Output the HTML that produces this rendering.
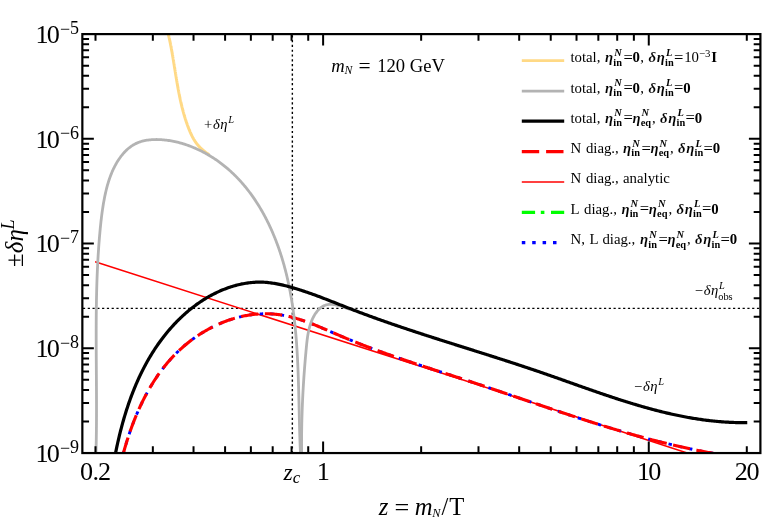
<!DOCTYPE html>
<html><head><meta charset="utf-8"><title>plot</title>
<style>html,body{margin:0;padding:0;background:#fff;}svg{display:block;will-change:transform;}text{font-family:"Liberation Serif",serif;}</style></head>
<body>
<svg width="763" height="522" viewBox="0 0 763 522">
<defs><clipPath id="cp"><rect x="82.35" y="34.10" width="678.05" height="418.95"/></clipPath></defs>
<defs><clipPath id="co"><rect x="82.35" y="34.10" width="127.65" height="418.95"/></clipPath></defs>
<rect width="763" height="522" fill="#fff"/>
<g stroke="#000" stroke-width="1.4" stroke-dasharray="2.2 2.58" fill="none">
<path d="M292.35 34.60 V453.05" stroke-dashoffset="-0.7"/>
<path d="M82.95 308.40 H760.40"/>
</g>
<g clip-path="url(#cp)" fill="none" stroke-linejoin="round">
<path d="M167.33 30.09 L167.43 30.47 L167.52 30.85 L167.62 31.22 L167.71 31.60 L167.81 31.98 L167.90 32.35 L167.99 32.73 L168.08 33.11 L168.17 33.49 L168.26 33.87 L168.35 34.25 L168.44 34.63 L168.53 35.01 L168.62 35.39 L168.71 35.77 L168.80 36.15 L168.88 36.53 L168.97 36.91 L169.05 37.29 L169.14 37.67 L169.22 38.06 L169.31 38.44 L169.39 38.82 L169.47 39.20 L169.56 39.59 L169.64 39.97 L169.72 40.35 L169.80 40.74 L169.88 41.12 L169.96 41.51 L170.04 41.89 L170.12 42.27 L170.20 42.66 L170.27 43.04 L170.35 43.43 L170.43 43.82 L170.51 44.20 L170.58 44.59 L170.66 44.97 L170.73 45.36 L170.81 45.75 L170.88 46.13 L170.96 46.52 L171.03 46.91 L171.11 47.30 L171.18 47.68 L171.25 48.07 L171.32 48.46 L171.40 48.85 L171.47 49.24 L171.54 49.62 L171.61 50.01 L171.68 50.40 L171.75 50.79 L171.82 51.18 L171.89 51.57 L171.96 51.96 L172.03 52.35 L172.10 52.74 L172.17 53.13 L172.24 53.52 L172.31 53.91 L172.37 54.30 L172.44 54.69 L172.51 55.08 L172.58 55.47 L172.64 55.86 L172.71 56.25 L172.78 56.65 L172.84 57.04 L172.91 57.43 L172.98 57.82 L173.04 58.21 L173.11 58.60 L173.17 59.00 L173.24 59.39 L173.30 59.78 L173.37 60.17 L173.43 60.56 L173.50 60.96 L173.56 61.35 L173.63 61.74 L173.69 62.14 L173.76 62.53 L173.82 62.92 L173.88 63.31 L173.95 63.71 L174.01 64.10 L174.08 64.49 L174.14 64.89 L174.20 65.28 L174.27 65.67 L174.33 66.07 L174.39 66.46 L174.46 66.85 L174.52 67.25 L174.58 67.64 L174.65 68.04 L174.71 68.43 L174.77 68.82 L174.84 69.22 L174.90 69.61 L174.96 70.01 L175.03 70.40 L175.09 70.79 L175.15 71.19 L175.22 71.58 L175.28 71.98 L175.35 72.37 L175.41 72.76 L175.47 73.16 L175.54 73.55 L175.60 73.95 L175.66 74.34 L175.73 74.73 L175.79 75.13 L175.86 75.52 L175.92 75.92 L175.99 76.31 L176.05 76.71 L176.12 77.10 L176.18 77.49 L176.25 77.89 L176.31 78.28 L176.38 78.68 L176.44 79.07 L176.51 79.46 L176.57 79.86 L176.64 80.25 L176.71 80.65 L176.77 81.04 L176.84 81.43 L176.91 81.83 L176.97 82.22 L177.04 82.61 L177.11 83.01 L177.18 83.40 L177.24 83.79 L177.31 84.19 L177.38 84.58 L177.45 84.97 L177.52 85.37 L177.59 85.76 L177.66 86.15 L177.73 86.55 L177.80 86.94 L177.87 87.33 L177.94 87.72 L178.01 88.12 L178.08 88.51 L178.16 88.90 L178.23 89.29 L178.30 89.68 L178.37 90.08 L178.45 90.47 L178.52 90.86 L178.59 91.25 L178.67 91.64 L178.74 92.03 L178.82 92.43 L178.89 92.82 L178.97 93.21 L179.05 93.60 L179.12 93.99 L179.20 94.38 L179.28 94.77 L179.36 95.16 L179.44 95.55 L179.52 95.94 L179.60 96.33 L179.68 96.72 L179.76 97.11 L179.84 97.50 L179.92 97.89 L180.00 98.28 L180.08 98.67 L180.17 99.06 L180.25 99.44 L180.33 99.83 L180.42 100.22 L180.50 100.61 L180.59 101.00 L180.68 101.38 L180.76 101.77 L180.85 102.16 L180.94 102.54 L181.03 102.93 L181.12 103.32 L181.21 103.70 L181.30 104.09 L181.39 104.48 L181.48 104.86 L181.57 105.25 L181.66 105.63 L181.76 106.02 L181.85 106.40 L181.94 106.79 L182.04 107.17 L182.14 107.56 L182.23 107.94 L182.33 108.32 L182.43 108.71 L182.53 109.09 L182.63 109.47 L182.73 109.86 L182.83 110.24 L182.93 110.62 L183.03 111.00 L183.13 111.38 L183.24 111.76 L183.34 112.15 L183.45 112.53 L183.55 112.91 L183.66 113.29 L183.77 113.67 L183.87 114.05 L183.98 114.43 L184.09 114.81 L184.20 115.18 L184.31 115.56 L184.43 115.94 L184.54 116.32 L184.65 116.70 L184.77 117.07 L184.88 117.45 L185.00 117.83 L185.12 118.20 L185.23 118.58 L185.35 118.96 L185.47 119.33 L185.59 119.71 L185.72 120.08 L185.84 120.45 L185.96 120.83 L186.08 121.20 L186.21 121.58 L186.34 121.95 L186.46 122.32 L186.59 122.69 L186.72 123.07 L186.85 123.44 L186.98 123.81 L187.11 124.18 L187.24 124.55 L187.38 124.92 L187.51 125.29 L187.65 125.66 L187.78 126.03 L187.92 126.40 L188.06 126.77 L188.20 127.13 L188.34 127.50 L188.48 127.87 L188.62 128.24 L188.77 128.60 L188.91 128.97 L189.06 129.33 L189.20 129.70 L189.35 130.06 L189.50 130.43 L189.65 130.79 L189.80 131.16 L189.95 131.52 L190.11 131.88 L190.26 132.24 L190.42 132.60 L190.58 132.96 L190.74 133.32 L190.90 133.68 L191.06 134.03 L191.23 134.39 L191.40 134.74 L191.57 135.09 L191.74 135.45 L191.91 135.80 L192.08 136.15 L192.26 136.49 L192.44 136.84 L192.62 137.19 L192.80 137.53 L192.99 137.87 L193.18 138.21 L193.37 138.55 L193.56 138.89 L193.76 139.23 L193.95 139.56 L194.15 139.89 L194.36 140.22 L194.56 140.55 L194.77 140.88 L194.98 141.20 L195.19 141.52 L195.41 141.84 L195.63 142.16 L195.85 142.48 L196.08 142.79 L196.31 143.10 L196.54 143.41 L196.77 143.72 L197.01 144.02 L197.25 144.32 L197.50 144.62 L197.75 144.92 L198.00 145.22 L198.25 145.51 L198.51 145.80 L198.76 146.09 L199.03 146.37 L199.29 146.66 L199.56 146.94 L199.83 147.22 L200.10 147.49 L200.38 147.77 L200.66 148.04 L200.94 148.31 L201.22 148.58 L201.51 148.85 L201.80 149.11 L202.09 149.38 L202.38 149.64 L202.68 149.90 L202.98 150.15 L203.28 150.41 L203.58 150.66 L203.89 150.91 L204.20 151.16 L204.51 151.41 L204.82 151.66 L205.13 151.90 L205.45 152.14 L205.77 152.38 L206.09 152.62 L206.41 152.86 L206.73 153.10 L207.05 153.33 L207.38 153.57 L207.71 153.80 L208.04 154.03 L208.37 154.26 L208.70 154.49 L209.03 154.72 L209.36 154.95 L209.70 155.17 L210.03 155.40 L210.37 155.62 L210.71 155.85 L211.04 156.07 L211.38 156.29 L211.72 156.52 L212.06 156.74 L212.40 156.96 L212.74 157.18 L213.08 157.40 L213.42 157.63 L213.76 157.85 L214.10 158.07 L214.44 158.29 L214.78 158.51 L215.12 158.73 L215.46 158.95 L215.80 159.17 L216.13 159.39 L216.47 159.62 L216.81 159.84 L217.14 160.06 L217.48 160.28 L217.82 160.51 L218.15 160.73 L218.48 160.96 L218.81 161.18 L219.14 161.41 L219.47 161.64 L219.80 161.87 L220.13 162.10 L220.45 162.33 L220.78 162.56 L221.10 162.79 L221.42 163.03 L221.74 163.26 L222.06 163.50 L222.37 163.74 L222.68 163.98 L222.99 164.22 L223.30 164.46 L223.61 164.71 L223.91 164.96 L224.22 165.20 L224.51 165.45 L224.81 165.71 L225.11 165.96 L225.40 166.22 L225.69 166.47 L225.97 166.73 L226.26 167.00 L226.54 167.26 L226.81 167.53 L227.09 167.80 L227.36 168.07 L227.62 168.34" stroke="#ffd985" stroke-width="3" clip-path="url(#co)"/>
<path d="M95.10 261.80 L464.00 380.30 L687.20 453.00 L700.00 457.20" stroke="#ff0000" stroke-width="1.5"/>
<path d="M122.17 457.78 L122.45 456.69 L122.74 455.60 L123.03 454.51 L123.33 453.42 L123.63 452.32 L123.93 451.23 L124.24 450.13 L124.55 449.04 L124.87 447.94 L125.19 446.84 L125.51 445.74 L125.84 444.64 L126.17 443.54 L126.51 442.44 L126.85 441.34 L127.19 440.24 L127.54 439.14 L127.90 438.04 L128.25 436.94 L128.62 435.85 L128.98 434.75 L129.35 433.65 L129.73 432.55 L130.11 431.45 L130.49 430.35 L130.88 429.25 L131.28 428.16 L131.67 427.06 L132.08 425.97 L132.48 424.87 L132.90 423.78 L133.31 422.69 L133.73 421.60 L134.16 420.51 L134.59 419.42 L135.03 418.33 L135.47 417.25 L135.91 416.16 L136.37 415.08 L136.82 414.00 L137.28 412.92 L137.75 411.85 L138.22 410.77 L138.69 409.70 L139.18 408.63 L139.66 407.56 L140.15 406.49 L140.65 405.43 L141.15 404.36 L141.66 403.30 L142.17 402.25 L142.69 401.19 L143.21 400.14 L143.74 399.09 L144.28 398.04 L144.81 397.00 L145.36 395.96 L145.91 394.92 L146.47 393.89 L147.03 392.86 L147.60 391.83 L148.17 390.80 L148.75 389.78 L149.33 388.76 L149.92 387.75 L150.52 386.74 L151.12 385.73 L151.73 384.73 L152.34 383.73 L152.96 382.73 L153.59 381.74 L154.22 380.75 L154.86 379.77 L155.50 378.79 L156.15 377.82 L156.80 376.85 L157.47 375.88 L158.13 374.92 L158.81 373.96 L159.49 373.01 L160.18 372.06 L160.87 371.12 L161.57 370.18 L162.27 369.25 L162.99 368.32 L163.70 367.40 L164.43 366.48 L165.16 365.57 L165.90 364.66 L166.64 363.76 L167.39 362.87 L168.15 361.98 L168.92 361.09 L169.69 360.22 L170.46 359.34 L171.25 358.48 L172.04 357.61 L172.84 356.76 L173.64 355.91 L174.45 355.07 L175.27 354.23 L176.10 353.40 L176.93 352.58 L177.77 351.76 L178.62 350.95 L179.47 350.15 L180.33 349.35 L181.20 348.56 L182.07 347.78 L182.95 347.00 L183.84 346.23 L184.73 345.47 L185.63 344.71 L186.53 343.96 L187.45 343.22 L188.36 342.49 L189.29 341.76 L190.22 341.04 L191.15 340.33 L192.09 339.63 L193.04 338.93 L193.99 338.25 L194.95 337.57 L195.91 336.90 L196.88 336.23 L197.86 335.58 L198.83 334.93 L199.82 334.29 L200.81 333.66 L201.80 333.03 L202.80 332.42 L203.81 331.81 L204.81 331.22 L205.83 330.63 L206.85 330.05 L207.87 329.48 L208.89 328.92 L209.93 328.36 L210.96 327.82 L212.00 327.29 L213.04 326.76 L214.09 326.24 L215.14 325.74 L216.20 325.24 L217.26 324.75 L218.32 324.27 L219.38 323.80 L220.45 323.34 L221.53 322.90 L222.60 322.46 L223.68 322.03 L224.76 321.61 L225.85 321.20 L226.94 320.80 L228.03 320.41 L229.12 320.03 L230.22 319.66 L231.32 319.30 L232.42 318.96 L233.53 318.62 L234.64 318.29 L235.75 317.98 L236.86 317.67 L237.97 317.38 L239.09 317.09 L240.21 316.82 L241.33 316.56 L242.45 316.31 L243.57 316.07 L244.70 315.85 L245.83 315.63 L246.96 315.43 L248.09 315.23 L249.22 315.05 L250.35 314.88 L251.49 314.73 L252.62 314.58 L253.76 314.45 L254.89 314.32 L256.03 314.21 L257.17 314.12 L258.31 314.03 L259.45 313.96 L260.59 313.90 L261.74 313.85 L262.88 313.81 L264.02 313.79 L265.16 313.78 L266.30 313.78 L267.45 313.79 L268.59 313.82 L269.73 313.86 L270.88 313.91 L272.02 313.98 L273.16 314.06 L274.30 314.15 L275.44 314.26 L276.58 314.38 L277.72 314.51 L278.86 314.66 L280.00 314.81 L281.14 314.99 L282.28 315.17 L283.41 315.37 L284.55 315.58 L285.68 315.80 L286.81 316.04 L287.94 316.29 L289.08 316.54 L290.20 316.81 L291.33 317.09 L292.46 317.38 L293.58 317.68 L294.71 317.99 L295.83 318.31 L296.95 318.63 L298.07 318.97 L299.19 319.32 L300.30 319.67 L301.42 320.03 L302.53 320.40 L303.64 320.78 L304.75 321.16 L305.86 321.56 L306.97 321.96 L308.07 322.36 L309.17 322.77 L310.28 323.19 L311.38 323.61 L312.48 324.04 L313.58 324.47 L314.68 324.91 L315.77 325.35 L316.87 325.80 L317.96 326.25 L319.06 326.70 L320.15 327.16 L321.25 327.62 L322.34 328.08 L323.43 328.55 L324.52 329.01 L325.61 329.48 L326.70 329.95 L327.79 330.43 L328.88 330.90 L329.97 331.37 L331.06 331.85 L332.14 332.32 L333.23 332.80 L334.32 333.27 L335.41 333.74 L336.50 334.21 L337.58 334.68 L338.67 335.15 L339.76 335.62 L340.85 336.09 L341.94 336.55 L343.03 337.01 L344.11 337.47 L345.20 337.92 L346.29 338.38 L347.38 338.83 L348.47 339.28 L349.56 339.72 L350.65 340.17 L351.74 340.61 L352.83 341.05 L353.92 341.49 L355.01 341.93 L356.11 342.37 L357.20 342.80 L358.29 343.23 L359.38 343.66 L360.47 344.09 L361.56 344.51 L362.66 344.94 L363.75 345.36 L364.84 345.78 L365.93 346.20 L367.03 346.61 L368.12 347.03 L369.21 347.44 L370.31 347.85 L371.40 348.26 L372.49 348.67 L373.59 349.08 L374.68 349.49 L375.78 349.89 L376.87 350.29 L377.97 350.69 L379.06 351.09 L380.15 351.49 L381.25 351.89 L382.35 352.28 L383.44 352.68 L384.54 353.07 L385.63 353.46 L386.73 353.85 L387.82 354.24 L388.92 354.63 L390.02 355.01 L391.11 355.40 L392.21 355.78 L393.31 356.16 L394.40 356.54 L395.50 356.92 L396.60 357.30 L397.69 357.68 L398.79 358.06 L399.89 358.44 L400.99 358.81 L402.08 359.19 L403.18 359.56 L404.28 359.93 L405.38 360.30 L406.47 360.67 L407.57 361.04 L408.67 361.41 L409.77 361.78 L410.87 362.15 L411.97 362.52 L413.07 362.88 L414.16 363.25 L415.26 363.61 L416.36 363.98 L417.46 364.34 L418.56 364.70 L419.66 365.07 L420.76 365.43 L421.86 365.79 L422.96 366.15 L424.06 366.51 L425.16 366.87 L426.26 367.23 L427.36 367.59 L428.46 367.95 L429.56 368.31 L430.66 368.67 L431.76 369.03 L432.86 369.38 L433.96 369.74 L435.06 370.10 L436.16 370.46 L437.26 370.81 L438.36 371.17 L439.47 371.53 L440.57 371.88 L441.67 372.24 L442.77 372.60 L443.87 372.95 L444.97 373.31 L446.07 373.66 L447.17 374.02 L448.27 374.38 L449.38 374.73 L450.48 375.09 L451.58 375.45 L452.68 375.80 L453.78 376.16 L454.88 376.52 L455.99 376.88 L457.09 377.24 L458.19 377.59 L459.29 377.95 L460.39 378.31 L461.50 378.67 L462.60 379.03 L463.70 379.39 L464.80 379.75 L465.90 380.11 L467.01 380.47 L468.11 380.84 L469.21 381.20 L470.31 381.56 L471.42 381.93 L472.52 382.29 L473.62 382.65 L474.72 383.02 L475.82 383.39 L476.93 383.75 L478.03 384.12 L479.13 384.49 L480.23 384.85 L481.34 385.22 L482.44 385.59 L483.54 385.96 L484.65 386.33 L485.75 386.70 L486.85 387.07 L487.95 387.44 L489.06 387.81 L490.16 388.19 L491.26 388.56 L492.37 388.93 L493.47 389.30 L494.57 389.68 L495.68 390.05 L496.78 390.42 L497.88 390.80 L498.99 391.17 L500.09 391.54 L501.19 391.92 L502.30 392.29 L503.40 392.67 L504.50 393.04 L505.61 393.42 L506.71 393.80 L507.81 394.17 L508.92 394.55 L510.02 394.92 L511.13 395.30 L512.23 395.68 L513.34 396.05 L514.44 396.43 L515.55 396.81 L516.65 397.18 L517.75 397.56 L518.86 397.94 L519.96 398.31 L521.07 398.69 L522.17 399.07 L523.28 399.45 L524.38 399.82 L525.49 400.20 L526.60 400.58 L527.70 400.95 L528.81 401.33 L529.91 401.71 L531.02 402.08 L532.12 402.46 L533.23 402.84 L534.34 403.21 L535.44 403.59 L536.55 403.97 L537.66 404.34 L538.76 404.72 L539.87 405.09 L540.98 405.47 L542.08 405.84 L543.19 406.22 L544.30 406.59 L545.41 406.97 L546.51 407.34 L547.62 407.72 L548.73 408.09 L549.84 408.46 L550.95 408.84 L552.05 409.21 L553.16 409.58 L554.27 409.95 L555.38 410.33 L556.49 410.70 L557.60 411.07 L558.71 411.44 L559.82 411.81 L560.93 412.18 L562.04 412.55 L563.15 412.92 L564.26 413.29 L565.37 413.65 L566.48 414.02 L567.59 414.39 L568.70 414.76 L569.81 415.12 L570.92 415.49 L572.03 415.85 L573.14 416.22 L574.25 416.58 L575.36 416.94 L576.47 417.31 L577.59 417.67 L578.70 418.03 L579.81 418.39 L580.92 418.75 L582.04 419.11 L583.15 419.47 L584.26 419.83 L585.38 420.19 L586.49 420.54 L587.60 420.90 L588.72 421.26 L589.83 421.61 L590.94 421.97 L592.06 422.32 L593.17 422.67 L594.29 423.02 L595.40 423.37 L596.52 423.72 L597.63 424.07 L598.75 424.42 L599.86 424.77 L600.98 425.12 L602.10 425.46 L603.21 425.81 L604.33 426.15 L605.44 426.50 L606.56 426.84 L607.68 427.18 L608.80 427.52 L609.91 427.86 L611.03 428.20 L612.15 428.54 L613.27 428.87 L614.39 429.21 L615.51 429.54 L616.62 429.88 L617.74 430.21 L618.86 430.54 L619.98 430.87 L621.10 431.20 L622.22 431.53 L623.34 431.86 L624.46 432.19 L625.58 432.51 L626.70 432.83 L627.83 433.16 L628.95 433.48 L630.07 433.80 L631.19 434.12 L632.31 434.44 L633.44 434.75 L634.56 435.07 L635.68 435.38 L636.81 435.70 L637.93 436.01 L639.05 436.32 L640.18 436.63 L641.30 436.94 L642.43 437.24 L643.55 437.55 L644.68 437.85 L645.80 438.16 L646.93 438.46 L648.05 438.76 L649.18 439.06 L650.30 439.36 L651.43 439.65 L652.56 439.95 L653.69 440.24 L654.81 440.53 L655.94 440.82 L657.07 441.11 L658.20 441.40 L659.33 441.68 L660.46 441.97 L661.58 442.25 L662.71 442.53 L663.84 442.81 L664.97 443.09 L666.10 443.37 L667.24 443.64 L668.37 443.92 L669.50 444.19 L670.63 444.46 L671.76 444.73 L672.89 444.99 L674.03 445.26 L675.16 445.52 L676.29 445.79 L677.43 446.05 L678.56 446.30 L679.69 446.56 L680.83 446.82 L681.96 447.07 L683.10 447.32 L684.23 447.57 L685.37 447.82 L686.50 448.07 L687.64 448.31 L688.78 448.56 L689.91 448.80 L691.05 449.04 L692.19 449.27 L693.33 449.51 L694.47 449.74 L695.60 449.98 L696.74 450.21 L697.88 450.43 L699.02 450.66 L700.16 450.88 L701.30 451.11 L702.44 451.33 L703.58 451.55 L704.73 451.76 L705.87 451.98 L707.01 452.19 L708.15 452.40 L709.29 452.61 L710.44 452.81 L711.58 453.02 L712.72 453.22 L713.87 453.42 L715.01 453.62 L716.16 453.82 L717.30 454.01 L718.45 454.20 L719.60 454.39 L720.74 454.58 L721.89 454.77" stroke="#0000ff" stroke-width="2.9" stroke-dasharray="3.4 7.09" stroke-dashoffset="6.89"/>
<path d="M122.17 457.78 L122.45 456.69 L122.74 455.60 L123.03 454.51 L123.33 453.42 L123.63 452.32 L123.93 451.23 L124.24 450.13 L124.55 449.04 L124.87 447.94 L125.19 446.84 L125.51 445.74 L125.84 444.64 L126.17 443.54 L126.51 442.44 L126.85 441.34 L127.19 440.24 L127.54 439.14 L127.90 438.04 L128.25 436.94 L128.62 435.85 L128.98 434.75 L129.35 433.65 L129.73 432.55 L130.11 431.45 L130.49 430.35 L130.88 429.25 L131.28 428.16 L131.67 427.06 L132.08 425.97 L132.48 424.87 L132.90 423.78 L133.31 422.69 L133.73 421.60 L134.16 420.51 L134.59 419.42 L135.03 418.33 L135.47 417.25 L135.91 416.16 L136.37 415.08 L136.82 414.00 L137.28 412.92 L137.75 411.85 L138.22 410.77 L138.69 409.70 L139.18 408.63 L139.66 407.56 L140.15 406.49 L140.65 405.43 L141.15 404.36 L141.66 403.30 L142.17 402.25 L142.69 401.19 L143.21 400.14 L143.74 399.09 L144.28 398.04 L144.81 397.00 L145.36 395.96 L145.91 394.92 L146.47 393.89 L147.03 392.86 L147.60 391.83 L148.17 390.80 L148.75 389.78 L149.33 388.76 L149.92 387.75 L150.52 386.74 L151.12 385.73 L151.73 384.73 L152.34 383.73 L152.96 382.73 L153.59 381.74 L154.22 380.75 L154.86 379.77 L155.50 378.79 L156.15 377.82 L156.80 376.85 L157.47 375.88 L158.13 374.92 L158.81 373.96 L159.49 373.01 L160.18 372.06 L160.87 371.12 L161.57 370.18 L162.27 369.25 L162.99 368.32 L163.70 367.40 L164.43 366.48 L165.16 365.57 L165.90 364.66 L166.64 363.76 L167.39 362.87 L168.15 361.98 L168.92 361.09 L169.69 360.22 L170.46 359.34 L171.25 358.48 L172.04 357.61 L172.84 356.76 L173.64 355.91 L174.45 355.07 L175.27 354.23 L176.10 353.40 L176.93 352.58 L177.77 351.76 L178.62 350.95 L179.47 350.15 L180.33 349.35 L181.20 348.56 L182.07 347.78 L182.95 347.00 L183.84 346.23 L184.73 345.47 L185.63 344.71 L186.53 343.96 L187.45 343.22 L188.36 342.49 L189.29 341.76 L190.22 341.04 L191.15 340.33 L192.09 339.63 L193.04 338.93 L193.99 338.25 L194.95 337.57 L195.91 336.90 L196.88 336.23 L197.86 335.58 L198.83 334.93 L199.82 334.29 L200.81 333.66 L201.80 333.03 L202.80 332.42 L203.81 331.81 L204.81 331.22 L205.83 330.63 L206.85 330.05 L207.87 329.48 L208.89 328.92 L209.93 328.36 L210.96 327.82 L212.00 327.29 L213.04 326.76 L214.09 326.24 L215.14 325.74 L216.20 325.24 L217.26 324.75 L218.32 324.27 L219.38 323.80 L220.45 323.34 L221.53 322.90 L222.60 322.46 L223.68 322.03 L224.76 321.61 L225.85 321.20 L226.94 320.80 L228.03 320.41 L229.12 320.03 L230.22 319.66 L231.32 319.30 L232.42 318.96 L233.53 318.62 L234.64 318.29 L235.75 317.98 L236.86 317.67 L237.97 317.38 L239.09 317.09 L240.21 316.82 L241.33 316.56 L242.45 316.31 L243.57 316.07 L244.70 315.85 L245.83 315.63 L246.96 315.43 L248.09 315.23 L249.22 315.05 L250.35 314.88 L251.49 314.73 L252.62 314.58 L253.76 314.45 L254.89 314.32 L256.03 314.21 L257.17 314.12 L258.31 314.03 L259.45 313.96 L260.59 313.90 L261.74 313.85 L262.88 313.81 L264.02 313.79 L265.16 313.78 L266.30 313.78 L267.45 313.79 L268.59 313.82 L269.73 313.86 L270.88 313.91 L272.02 313.98 L273.16 314.06 L274.30 314.15 L275.44 314.26 L276.58 314.38 L277.72 314.51 L278.86 314.66 L280.00 314.81 L281.14 314.99 L282.28 315.17 L283.41 315.37 L284.55 315.58 L285.68 315.80 L286.81 316.04 L287.94 316.29 L289.08 316.54 L290.20 316.81 L291.33 317.09 L292.46 317.38 L293.58 317.68 L294.71 317.99 L295.83 318.31 L296.95 318.63 L298.07 318.97 L299.19 319.32 L300.30 319.67 L301.42 320.03 L302.53 320.40 L303.64 320.78 L304.75 321.16 L305.86 321.56 L306.97 321.96 L308.07 322.36 L309.17 322.77 L310.28 323.19 L311.38 323.61 L312.48 324.04 L313.58 324.47 L314.68 324.91 L315.77 325.35 L316.87 325.80 L317.96 326.25 L319.06 326.70 L320.15 327.16 L321.25 327.62 L322.34 328.08 L323.43 328.55 L324.52 329.01 L325.61 329.48 L326.70 329.95 L327.79 330.43 L328.88 330.90 L329.97 331.37 L331.06 331.85 L332.14 332.32 L333.23 332.80 L334.32 333.27 L335.41 333.74 L336.50 334.21 L337.58 334.68 L338.67 335.15 L339.76 335.62 L340.85 336.09 L341.94 336.55 L343.03 337.01 L344.11 337.47 L345.20 337.92 L346.29 338.38 L347.38 338.83 L348.47 339.28 L349.56 339.72 L350.65 340.17 L351.74 340.61 L352.83 341.05 L353.92 341.49 L355.01 341.93 L356.11 342.37 L357.20 342.80 L358.29 343.23 L359.38 343.66 L360.47 344.09 L361.56 344.51 L362.66 344.94 L363.75 345.36 L364.84 345.78 L365.93 346.20 L367.03 346.61 L368.12 347.03 L369.21 347.44 L370.31 347.85 L371.40 348.26 L372.49 348.67 L373.59 349.08 L374.68 349.49 L375.78 349.89 L376.87 350.29 L377.97 350.69 L379.06 351.09 L380.15 351.49 L381.25 351.89 L382.35 352.28 L383.44 352.68 L384.54 353.07 L385.63 353.46 L386.73 353.85 L387.82 354.24 L388.92 354.63 L390.02 355.01 L391.11 355.40 L392.21 355.78 L393.31 356.16 L394.40 356.54 L395.50 356.92 L396.60 357.30 L397.69 357.68 L398.79 358.06 L399.89 358.44 L400.99 358.81 L402.08 359.19 L403.18 359.56 L404.28 359.93 L405.38 360.30 L406.47 360.67 L407.57 361.04 L408.67 361.41 L409.77 361.78 L410.87 362.15 L411.97 362.52 L413.07 362.88 L414.16 363.25 L415.26 363.61 L416.36 363.98 L417.46 364.34 L418.56 364.70 L419.66 365.07 L420.76 365.43 L421.86 365.79 L422.96 366.15 L424.06 366.51 L425.16 366.87 L426.26 367.23 L427.36 367.59 L428.46 367.95 L429.56 368.31 L430.66 368.67 L431.76 369.03 L432.86 369.38 L433.96 369.74 L435.06 370.10 L436.16 370.46 L437.26 370.81 L438.36 371.17 L439.47 371.53 L440.57 371.88 L441.67 372.24 L442.77 372.60 L443.87 372.95 L444.97 373.31 L446.07 373.66 L447.17 374.02 L448.27 374.38 L449.38 374.73 L450.48 375.09 L451.58 375.45 L452.68 375.80 L453.78 376.16 L454.88 376.52 L455.99 376.88 L457.09 377.24 L458.19 377.59 L459.29 377.95 L460.39 378.31 L461.50 378.67 L462.60 379.03 L463.70 379.39 L464.80 379.75 L465.90 380.11 L467.01 380.47 L468.11 380.84 L469.21 381.20 L470.31 381.56 L471.42 381.93 L472.52 382.29 L473.62 382.65 L474.72 383.02 L475.82 383.39 L476.93 383.75 L478.03 384.12 L479.13 384.49 L480.23 384.85 L481.34 385.22 L482.44 385.59 L483.54 385.96 L484.65 386.33 L485.75 386.70 L486.85 387.07 L487.95 387.44 L489.06 387.81 L490.16 388.19 L491.26 388.56 L492.37 388.93 L493.47 389.30 L494.57 389.68 L495.68 390.05 L496.78 390.42 L497.88 390.80 L498.99 391.17 L500.09 391.54 L501.19 391.92 L502.30 392.29 L503.40 392.67 L504.50 393.04 L505.61 393.42 L506.71 393.80 L507.81 394.17 L508.92 394.55 L510.02 394.92 L511.13 395.30 L512.23 395.68 L513.34 396.05 L514.44 396.43 L515.55 396.81 L516.65 397.18 L517.75 397.56 L518.86 397.94 L519.96 398.31 L521.07 398.69 L522.17 399.07 L523.28 399.45 L524.38 399.82 L525.49 400.20 L526.60 400.58 L527.70 400.95 L528.81 401.33 L529.91 401.71 L531.02 402.08 L532.12 402.46 L533.23 402.84 L534.34 403.21 L535.44 403.59 L536.55 403.97 L537.66 404.34 L538.76 404.72 L539.87 405.09 L540.98 405.47 L542.08 405.84 L543.19 406.22 L544.30 406.59 L545.41 406.97 L546.51 407.34 L547.62 407.72 L548.73 408.09 L549.84 408.46 L550.95 408.84 L552.05 409.21 L553.16 409.58 L554.27 409.95 L555.38 410.33 L556.49 410.70 L557.60 411.07 L558.71 411.44 L559.82 411.81 L560.93 412.18 L562.04 412.55 L563.15 412.92 L564.26 413.29 L565.37 413.65 L566.48 414.02 L567.59 414.39 L568.70 414.76 L569.81 415.12 L570.92 415.49 L572.03 415.85 L573.14 416.22 L574.25 416.58 L575.36 416.94 L576.47 417.31 L577.59 417.67 L578.70 418.03 L579.81 418.39 L580.92 418.75 L582.04 419.11 L583.15 419.47 L584.26 419.83 L585.38 420.19 L586.49 420.54 L587.60 420.90 L588.72 421.26 L589.83 421.61 L590.94 421.97 L592.06 422.32 L593.17 422.67 L594.29 423.02 L595.40 423.37 L596.52 423.72 L597.63 424.07 L598.75 424.42 L599.86 424.77 L600.98 425.12 L602.10 425.46 L603.21 425.81 L604.33 426.15 L605.44 426.50 L606.56 426.84 L607.68 427.18 L608.80 427.52 L609.91 427.86 L611.03 428.20 L612.15 428.54 L613.27 428.87 L614.39 429.21 L615.51 429.54 L616.62 429.88 L617.74 430.21 L618.86 430.54 L619.98 430.87 L621.10 431.20 L622.22 431.53 L623.34 431.86 L624.46 432.19 L625.58 432.51 L626.70 432.83 L627.83 433.16 L628.95 433.48 L630.07 433.80 L631.19 434.12 L632.31 434.44 L633.44 434.75 L634.56 435.07 L635.68 435.38 L636.81 435.70 L637.93 436.01 L639.05 436.32 L640.18 436.63 L641.30 436.94 L642.43 437.24 L643.55 437.55 L644.68 437.85 L645.80 438.16 L646.93 438.46 L648.05 438.76 L649.18 439.06 L650.30 439.36 L651.43 439.65 L652.56 439.95 L653.69 440.24 L654.81 440.53 L655.94 440.82 L657.07 441.11 L658.20 441.40 L659.33 441.68 L660.46 441.97 L661.58 442.25 L662.71 442.53 L663.84 442.81 L664.97 443.09 L666.10 443.37 L667.24 443.64 L668.37 443.92 L669.50 444.19 L670.63 444.46 L671.76 444.73 L672.89 444.99 L674.03 445.26 L675.16 445.52 L676.29 445.79 L677.43 446.05 L678.56 446.30 L679.69 446.56 L680.83 446.82 L681.96 447.07 L683.10 447.32 L684.23 447.57 L685.37 447.82 L686.50 448.07 L687.64 448.31 L688.78 448.56 L689.91 448.80 L691.05 449.04 L692.19 449.27 L693.33 449.51 L694.47 449.74 L695.60 449.98 L696.74 450.21 L697.88 450.43 L699.02 450.66 L700.16 450.88 L701.30 451.11 L702.44 451.33 L703.58 451.55 L704.73 451.76 L705.87 451.98 L707.01 452.19 L708.15 452.40 L709.29 452.61 L710.44 452.81 L711.58 453.02 L712.72 453.22 L713.87 453.42 L715.01 453.62 L716.16 453.82 L717.30 454.01 L718.45 454.20 L719.60 454.39 L720.74 454.58 L721.89 454.77" stroke="#ff0000" stroke-width="3.1" stroke-dasharray="17.3 6.57" stroke-dashoffset="20.19"/>
<path d="M95.83 457.96 L95.87 456.75 L95.90 455.53 L95.94 454.32 L95.97 453.10 L96.00 451.89 L96.03 450.67 L96.07 449.46 L96.09 448.24 L96.12 447.02 L96.15 445.80 L96.17 444.59 L96.20 443.37 L96.22 442.15 L96.24 440.93 L96.27 439.71 L96.29 438.50 L96.31 437.28 L96.32 436.06 L96.34 434.84 L96.36 433.62 L96.37 432.40 L96.39 431.18 L96.40 429.96 L96.41 428.74 L96.43 427.52 L96.44 426.30 L96.45 425.08 L96.46 423.85 L96.46 422.63 L96.47 421.41 L96.48 420.19 L96.48 418.97 L96.49 417.75 L96.50 416.52 L96.50 415.30 L96.50 414.08 L96.51 412.86 L96.51 411.63 L96.51 410.41 L96.51 409.19 L96.51 407.96 L96.51 406.74 L96.51 405.52 L96.51 404.29 L96.51 403.07 L96.50 401.84 L96.50 400.62 L96.50 399.39 L96.49 398.17 L96.49 396.95 L96.49 395.72 L96.48 394.50 L96.48 393.27 L96.47 392.05 L96.47 390.82 L96.46 389.59 L96.45 388.37 L96.45 387.14 L96.44 385.92 L96.43 384.69 L96.43 383.47 L96.42 382.24 L96.41 381.01 L96.40 379.79 L96.39 378.56 L96.39 377.34 L96.38 376.11 L96.37 374.88 L96.36 373.66 L96.35 372.43 L96.35 371.20 L96.34 369.98 L96.33 368.75 L96.32 367.53 L96.31 366.30 L96.30 365.07 L96.30 363.84 L96.29 362.62 L96.28 361.39 L96.27 360.16 L96.27 358.94 L96.26 357.71 L96.25 356.48 L96.24 355.26 L96.24 354.03 L96.23 352.80 L96.23 351.58 L96.22 350.35 L96.21 349.12 L96.21 347.90 L96.20 346.67 L96.20 345.44 L96.20 344.21 L96.19 342.99 L96.19 341.76 L96.19 340.53 L96.18 339.31 L96.18 338.08 L96.18 336.85 L96.18 335.63 L96.18 334.40 L96.18 333.17 L96.18 331.95 L96.18 330.72 L96.18 329.50 L96.19 328.27 L96.19 327.04 L96.19 325.82 L96.20 324.59 L96.20 323.36 L96.21 322.14 L96.22 320.91 L96.22 319.69 L96.23 318.46 L96.24 317.23 L96.25 316.01 L96.26 314.78 L96.27 313.56 L96.28 312.33 L96.30 311.11 L96.31 309.88 L96.33 308.66 L96.34 307.43 L96.36 306.21 L96.38 304.98 L96.40 303.76 L96.42 302.54 L96.44 301.31 L96.46 300.09 L96.48 298.86 L96.51 297.64 L96.53 296.42 L96.56 295.19 L96.59 293.97 L96.62 292.75 L96.65 291.52 L96.68 290.30 L96.71 289.08 L96.74 287.85 L96.78 286.63 L96.81 285.41 L96.85 284.19 L96.89 282.97 L96.93 281.74 L96.97 280.52 L97.01 279.30 L97.06 278.08 L97.10 276.86 L97.15 275.64 L97.20 274.42 L97.25 273.20 L97.30 271.98 L97.35 270.76 L97.41 269.54 L97.46 268.32 L97.52 267.10 L97.58 265.88 L97.64 264.66 L97.70 263.44 L97.77 262.22 L97.83 261.01 L97.90 259.79 L97.97 258.57 L98.04 257.35 L98.11 256.14 L98.18 254.92 L98.26 253.70 L98.34 252.49 L98.42 251.27 L98.50 250.05 L98.58 248.84 L98.66 247.62 L98.75 246.41 L98.84 245.19 L98.93 243.98 L99.02 242.77 L99.12 241.55 L99.21 240.34 L99.31 239.12 L99.41 237.91 L99.51 236.70 L99.62 235.49 L99.72 234.27 L99.83 233.06 L99.94 231.85 L100.05 230.64 L100.17 229.43 L100.28 228.22 L100.40 227.01 L100.52 225.80 L100.65 224.59 L100.78 223.38 L100.91 222.17 L101.04 220.96 L101.18 219.75 L101.32 218.54 L101.46 217.34 L101.61 216.13 L101.76 214.92 L101.92 213.71 L102.08 212.50 L102.25 211.29 L102.42 210.09 L102.60 208.88 L102.78 207.67 L102.97 206.46 L103.16 205.25 L103.36 204.04 L103.57 202.84 L103.78 201.63 L104.00 200.42 L104.23 199.21 L104.46 198.00 L104.70 196.79 L104.95 195.58 L105.21 194.37 L105.47 193.16 L105.74 191.95 L106.03 190.74 L106.32 189.54 L106.62 188.33 L106.93 187.13 L107.26 185.93 L107.59 184.73 L107.94 183.54 L108.30 182.35 L108.67 181.16 L109.06 179.98 L109.45 178.80 L109.86 177.62 L110.29 176.45 L110.73 175.28 L111.19 174.12 L111.66 172.97 L112.14 171.82 L112.64 170.68 L113.16 169.54 L113.70 168.41 L114.25 167.29 L114.82 166.17 L115.41 165.07 L116.01 163.97 L116.63 162.89 L117.27 161.82 L117.93 160.77 L118.60 159.73 L119.29 158.70 L120.00 157.70 L120.72 156.71 L121.47 155.74 L122.23 154.79 L123.00 153.86 L123.80 152.95 L124.61 152.07 L125.44 151.20 L126.29 150.37 L127.16 149.56 L128.04 148.78 L128.94 148.02 L129.86 147.30 L130.80 146.60 L131.75 145.94 L132.73 145.31 L133.72 144.71 L134.73 144.14 L135.75 143.62 L136.80 143.12 L137.86 142.67 L138.94 142.24 L140.04 141.86 L141.15 141.50 L142.28 141.18 L143.42 140.89 L144.57 140.63 L145.73 140.40 L146.90 140.20 L148.08 140.03 L149.27 139.89 L150.47 139.77 L151.68 139.67 L152.89 139.60 L154.10 139.55 L155.32 139.53 L156.55 139.52 L157.77 139.54 L159.00 139.58 L160.23 139.63 L161.45 139.70 L162.68 139.79 L163.91 139.90 L165.13 140.02 L166.36 140.17 L167.58 140.32 L168.81 140.50 L170.03 140.69 L171.25 140.90 L172.47 141.12 L173.68 141.36 L174.90 141.62 L176.11 141.89 L177.32 142.18 L178.53 142.48 L179.73 142.79 L180.93 143.13 L182.13 143.47 L183.32 143.83 L184.52 144.20 L185.70 144.59 L186.89 144.99 L188.06 145.41 L189.24 145.83 L190.41 146.27 L191.58 146.73 L192.74 147.19 L193.89 147.67 L195.04 148.16 L196.19 148.66 L197.33 149.18 L198.46 149.70 L199.59 150.24 L200.71 150.79 L201.82 151.35 L202.93 151.92 L204.03 152.50 L205.13 153.09 L206.21 153.69 L207.29 154.30 L208.37 154.92 L209.43 155.55 L210.49 156.18 L211.54 156.83 L212.58 157.49 L213.61 158.15 L214.64 158.83 L215.66 159.51 L216.67 160.21 L217.67 160.91 L218.67 161.62 L219.65 162.33 L220.63 163.06 L221.61 163.80 L222.57 164.54 L223.53 165.29 L224.48 166.05 L225.42 166.82 L226.35 167.59 L227.28 168.38 L228.20 169.17 L229.11 169.97 L230.01 170.77 L230.91 171.59 L231.80 172.41 L232.68 173.24 L233.56 174.07 L234.43 174.92 L235.29 175.77 L236.14 176.63 L236.99 177.49 L237.82 178.36 L238.66 179.24 L239.48 180.13 L240.30 181.02 L241.11 181.92 L241.91 182.82 L242.71 183.73 L243.49 184.65 L244.28 185.58 L245.05 186.51 L245.82 187.44 L246.58 188.39 L247.33 189.34 L248.08 190.29 L248.82 191.25 L249.55 192.22 L250.28 193.19 L251.00 194.17 L251.71 195.15 L252.42 196.14 L253.12 197.13 L253.81 198.13 L254.50 199.14 L255.18 200.14 L255.85 201.16 L256.51 202.18 L257.17 203.20 L257.83 204.23 L258.47 205.27 L259.11 206.30 L259.74 207.35 L260.37 208.39 L260.99 209.45 L261.60 210.50 L262.21 211.56 L262.81 212.63 L263.41 213.69 L263.99 214.77 L264.57 215.84 L265.15 216.92 L265.72 218.01 L266.28 219.10 L266.84 220.19 L267.39 221.28 L267.93 222.38 L268.47 223.48 L269.00 224.59 L269.53 225.69 L270.05 226.81 L270.56 227.92 L271.07 229.04 L271.57 230.16 L272.06 231.28 L272.55 232.41 L273.03 233.53 L273.51 234.67 L273.98 235.80 L274.45 236.93 L274.91 238.07 L275.36 239.21 L275.81 240.36 L276.25 241.50 L276.69 242.65 L277.12 243.80 L277.54 244.95 L277.96 246.10 L278.38 247.25 L278.78 248.41 L279.18 249.56 L279.58 250.72 L279.97 251.88 L280.36 253.04 L280.74 254.21 L281.11 255.37 L281.48 256.54 L281.84 257.70 L282.20 258.87 L282.55 260.04 L282.90 261.21 L283.24 262.38 L283.58 263.56 L283.91 264.73 L284.24 265.91 L284.56 267.08 L284.88 268.26 L285.19 269.44 L285.50 270.62 L285.80 271.80 L286.10 272.98 L286.39 274.17 L286.68 275.35 L286.96 276.54 L287.24 277.73 L287.51 278.91 L287.78 280.10 L288.04 281.29 L288.30 282.48 L288.56 283.68 L288.81 284.87 L289.06 286.06 L289.30 287.26 L289.54 288.46 L289.77 289.65 L290.00 290.85 L290.23 292.05 L290.45 293.25 L290.67 294.45 L290.88 295.65 L291.09 296.86 L291.30 298.06 L291.50 299.26 L291.70 300.47 L291.89 301.67 L292.08 302.88 L292.27 304.09 L292.45 305.30 L292.63 306.51 L292.81 307.72 L292.98 308.93 L293.15 310.14 L293.31 311.35 L293.47 312.56 L293.63 313.78 L293.79 314.99 L293.94 316.21 L294.09 317.42 L294.23 318.64 L294.38 319.85 L294.51 321.07 L294.65 322.29 L294.78 323.51 L294.91 324.73 L295.04 325.95 L295.16 327.17 L295.29 328.39 L295.40 329.61 L295.52 330.83 L295.63 332.05 L295.74 333.27 L295.85 334.50 L295.96 335.72 L296.06 336.94 L296.16 338.17 L296.26 339.39 L296.35 340.62 L296.44 341.84 L296.54 343.07 L296.62 344.29 L296.71 345.52 L296.79 346.75 L296.87 347.97 L296.95 349.20 L297.03 350.43 L297.11 351.66 L297.18 352.88 L297.25 354.11 L297.32 355.34 L297.39 356.57 L297.45 357.80 L297.52 359.03 L297.58 360.26 L297.64 361.48 L297.70 362.71 L297.76 363.94 L297.81 365.17 L297.86 366.40 L297.92 367.63 L297.97 368.86 L298.02 370.09 L298.07 371.32 L298.11 372.55 L298.16 373.78 L298.20 375.01 L298.25 376.24 L298.29 377.47 L298.33 378.70 L298.37 379.93 L298.41 381.16 L298.45 382.39 L298.49 383.62 L298.52 384.85 L298.56 386.08 L298.59 387.31 L298.63 388.54 L298.66 389.77 L298.69 390.99 L298.72 392.22 L298.75 393.45 L298.79 394.68 L298.82 395.91 L298.85 397.13 L298.87 398.36 L298.90 399.59 L298.93 400.82 L298.96 402.04 L298.99 403.27 L299.02 404.49 L299.05 405.72 L299.07 406.94 L299.10 408.17 L299.13 409.39 L299.16 410.62 L299.18 411.84 L299.21 413.06 L299.24 414.28 L299.27 415.51 L299.30 416.73 L299.32 417.95 L299.35 419.17 L299.38 420.39 L299.41 421.61 L299.44 422.83 L299.47 424.05 L299.50 425.26 L299.54 426.48 L299.57 427.70 L299.60 428.91 L299.64 430.13 L299.67 431.35 L299.71 432.56 L299.74 433.77 L299.78 434.99 L299.82 436.20 L299.86 437.41 L299.90 438.62 L299.94 439.83 L299.98 441.04 L300.02 442.25 L300.07 443.46 L300.11 444.66 L300.16 445.87 L300.21 447.07 L300.26 448.28 L300.31 449.48 L300.36 450.68 L300.41 451.89 L300.47 453.09 L300.52 454.29 L300.58 455.49 L300.64 456.68 L300.70 457.88" stroke="#b3b3b3" stroke-width="2.8"/>
<path d="M301.68 458.05 L301.67 457.10 L301.65 456.15 L301.64 455.21 L301.63 454.26 L301.62 453.31 L301.61 452.37 L301.60 451.42 L301.60 450.48 L301.59 449.53 L301.59 448.59 L301.58 447.65 L301.58 446.71 L301.58 445.77 L301.58 444.83 L301.57 443.89 L301.58 442.95 L301.58 442.02 L301.58 441.08 L301.58 440.15 L301.59 439.21 L301.59 438.28 L301.60 437.34 L301.60 436.41 L301.61 435.48 L301.62 434.55 L301.63 433.61 L301.64 432.68 L301.65 431.75 L301.66 430.82 L301.68 429.90 L301.69 428.97 L301.71 428.04 L301.72 427.11 L301.74 426.18 L301.76 425.26 L301.77 424.33 L301.79 423.41 L301.81 422.48 L301.84 421.56 L301.86 420.63 L301.88 419.71 L301.90 418.78 L301.93 417.86 L301.95 416.94 L301.98 416.01 L302.01 415.09 L302.04 414.17 L302.07 413.25 L302.10 412.33 L302.13 411.41 L302.16 410.48 L302.19 409.56 L302.23 408.64 L302.26 407.72 L302.30 406.80 L302.33 405.88 L302.37 404.96 L302.41 404.04 L302.45 403.12 L302.49 402.20 L302.53 401.28 L302.57 400.37 L302.61 399.45 L302.65 398.53 L302.70 397.61 L302.74 396.69 L302.79 395.77 L302.83 394.85 L302.88 393.93 L302.93 393.01 L302.98 392.09 L303.03 391.17 L303.08 390.25 L303.13 389.33 L303.19 388.42 L303.24 387.50 L303.29 386.58 L303.35 385.66 L303.40 384.74 L303.46 383.82 L303.52 382.90 L303.58 381.98 L303.64 381.05 L303.70 380.13 L303.76 379.21 L303.82 378.29 L303.88 377.37 L303.95 376.45 L304.01 375.52 L304.08 374.60 L304.14 373.68 L304.21 372.76 L304.28 371.83 L304.35 370.91 L304.42 369.98 L304.49 369.06 L304.56 368.13 L304.63 367.21 L304.70 366.28 L304.77 365.36 L304.85 364.43 L304.92 363.50 L305.00 362.57 L305.08 361.65 L305.15 360.72 L305.23 359.79 L305.31 358.86 L305.39 357.93 L305.47 357.00 L305.56 356.06 L305.64 355.13 L305.72 354.20 L305.81 353.27 L305.89 352.33 L305.98 351.40 L306.06 350.46 L306.15 349.53 L306.24 348.59 L306.33 347.65 L306.42 346.71 L306.51 345.78 L306.60 344.84 L306.70 343.90 L306.80 342.96 L306.90 342.02 L307.01 341.08 L307.12 340.15 L307.24 339.21 L307.37 338.28 L307.50 337.34 L307.63 336.41 L307.78 335.48 L307.93 334.55 L308.09 333.63 L308.27 332.71 L308.45 331.79 L308.64 330.87 L308.84 329.95 L309.06 329.04 L309.28 328.14 L309.52 327.23 L309.77 326.33 L310.04 325.44 L310.32 324.54 L310.61 323.66 L310.92 322.77 L311.25 321.90 L311.59 321.02 L311.95 320.16 L312.33 319.30 L312.72 318.44 L313.13 317.60 L313.56 316.76 L314.01 315.94 L314.48 315.13 L314.96 314.33 L315.47 313.56 L315.99 312.80 L316.53 312.06 L317.09 311.35 L317.67 310.66 L318.27 310.00 L318.89 309.36 L319.52 308.76 L320.18 308.19 L320.86 307.65 L321.56 307.14 L322.28 306.68 L323.01 306.25 L323.77 305.86 L324.55 305.51 L325.35 305.21 L326.17 304.95 L327.01 304.74 L327.88 304.58 L328.76 304.47 L329.66 304.40 L330.58 304.38 L331.51 304.40 L332.46 304.46 L333.41 304.55 L334.37 304.68 L335.34 304.83 L336.31 305.02 L337.29 305.23 L338.26 305.46 L339.23 305.72 L340.20 305.99 L341.16 306.28 L342.12 306.58 L343.06 306.89 L343.99 307.20 L344.91 307.53 L345.81 307.85 L346.70 308.18 L347.56 308.50 L348.40 308.81 L349.22 309.12 L350.01 309.42" stroke="#b3b3b3" stroke-width="2.8"/>
<path d="M114.61 457.97 L114.84 456.74 L115.08 455.52 L115.31 454.29 L115.56 453.06 L115.80 451.84 L116.05 450.61 L116.30 449.38 L116.56 448.15 L116.82 446.93 L117.08 445.70 L117.35 444.47 L117.62 443.24 L117.89 442.02 L118.17 440.79 L118.45 439.56 L118.74 438.33 L119.03 437.11 L119.32 435.88 L119.62 434.66 L119.92 433.43 L120.23 432.20 L120.53 430.98 L120.85 429.76 L121.17 428.53 L121.49 427.31 L121.81 426.09 L122.14 424.87 L122.48 423.65 L122.81 422.43 L123.16 421.21 L123.50 419.99 L123.86 418.78 L124.21 417.56 L124.57 416.35 L124.94 415.13 L125.31 413.92 L125.68 412.71 L126.06 411.50 L126.44 410.30 L126.83 409.09 L127.22 407.89 L127.62 406.68 L128.02 405.48 L128.43 404.28 L128.84 403.09 L129.26 401.89 L129.68 400.70 L130.11 399.51 L130.54 398.32 L130.97 397.13 L131.42 395.94 L131.86 394.76 L132.32 393.58 L132.77 392.40 L133.24 391.22 L133.70 390.05 L134.18 388.87 L134.66 387.70 L135.14 386.54 L135.63 385.37 L136.12 384.21 L136.62 383.05 L137.13 381.89 L137.64 380.74 L138.16 379.59 L138.68 378.44 L139.21 377.29 L139.74 376.15 L140.28 375.01 L140.83 373.87 L141.38 372.74 L141.94 371.61 L142.50 370.48 L143.07 369.36 L143.65 368.24 L144.23 367.12 L144.81 366.01 L145.41 364.90 L146.01 363.79 L146.61 362.69 L147.22 361.59 L147.84 360.49 L148.47 359.40 L149.10 358.31 L149.73 357.23 L150.38 356.15 L151.03 355.07 L151.68 354.00 L152.35 352.93 L153.02 351.87 L153.69 350.81 L154.37 349.75 L155.06 348.70 L155.76 347.65 L156.46 346.61 L157.17 345.57 L157.89 344.54 L158.61 343.51 L159.34 342.48 L160.08 341.46 L160.82 340.45 L161.57 339.44 L162.33 338.43 L163.09 337.43 L163.86 336.43 L164.64 335.44 L165.43 334.45 L166.22 333.47 L167.02 332.50 L167.83 331.53 L168.64 330.56 L169.47 329.60 L170.30 328.65 L171.13 327.70 L171.98 326.75 L172.83 325.81 L173.69 324.88 L174.55 323.96 L175.42 323.04 L176.30 322.12 L177.19 321.22 L178.08 320.32 L178.99 319.42 L179.89 318.54 L180.81 317.66 L181.73 316.79 L182.66 315.92 L183.59 315.06 L184.54 314.21 L185.48 313.37 L186.44 312.54 L187.40 311.71 L188.37 310.89 L189.35 310.08 L190.33 309.28 L191.32 308.49 L192.31 307.71 L193.32 306.93 L194.33 306.17 L195.34 305.41 L196.36 304.66 L197.39 303.92 L198.42 303.19 L199.47 302.47 L200.51 301.77 L201.57 301.07 L202.63 300.38 L203.69 299.70 L204.76 299.03 L205.84 298.37 L206.93 297.72 L208.02 297.08 L209.11 296.46 L210.22 295.84 L211.33 295.24 L212.44 294.65 L213.56 294.06 L214.69 293.49 L215.82 292.94 L216.96 292.39 L218.11 291.86 L219.26 291.33 L220.41 290.82 L221.57 290.32 L222.74 289.84 L223.91 289.37 L225.09 288.91 L226.28 288.46 L227.47 288.03 L228.66 287.61 L229.86 287.20 L231.07 286.81 L232.28 286.43 L233.49 286.07 L234.70 285.72 L235.92 285.38 L237.15 285.06 L238.38 284.76 L239.61 284.47 L240.84 284.19 L242.07 283.94 L243.31 283.70 L244.55 283.47 L245.80 283.26 L247.04 283.07 L248.29 282.90 L249.53 282.74 L250.78 282.60 L252.03 282.48 L253.28 282.37 L254.53 282.29 L255.78 282.22 L257.03 282.17 L258.28 282.14 L259.53 282.13 L260.78 282.13 L262.03 282.16 L263.28 282.21 L264.52 282.27 L265.77 282.36 L267.01 282.46 L268.26 282.58 L269.50 282.72 L270.74 282.87 L271.98 283.04 L273.21 283.22 L274.45 283.42 L275.69 283.64 L276.92 283.86 L278.15 284.10 L279.38 284.35 L280.61 284.61 L281.84 284.88 L283.07 285.17 L284.29 285.46 L285.51 285.76 L286.73 286.07 L287.95 286.39 L289.17 286.72 L290.39 287.05 L291.60 287.39 L292.81 287.74 L294.02 288.09 L295.23 288.45 L296.44 288.81 L297.65 289.18 L298.85 289.55 L300.05 289.93 L301.26 290.32 L302.46 290.71 L303.65 291.11 L304.85 291.51 L306.05 291.91 L307.24 292.32 L308.43 292.73 L309.63 293.15 L310.82 293.57 L312.01 293.99 L313.20 294.42 L314.39 294.85 L315.57 295.29 L316.76 295.73 L317.95 296.17 L319.13 296.61 L320.31 297.06 L321.50 297.51 L322.68 297.96 L323.86 298.41 L325.04 298.87 L326.22 299.32 L327.41 299.78 L328.59 300.24 L329.76 300.70 L330.94 301.16 L332.12 301.63 L333.30 302.09 L334.48 302.56 L335.66 303.02 L336.84 303.49 L338.01 303.95 L339.19 304.42 L340.37 304.88 L341.55 305.35 L342.73 305.82 L343.90 306.28 L345.08 306.74 L346.26 307.21 L347.44 307.67 L348.62 308.13 L349.80 308.59 L350.98 309.04 L352.16 309.50 L353.34 309.95 L354.52 310.41 L355.70 310.86 L356.88 311.31 L358.06 311.76 L359.25 312.20 L360.43 312.65 L361.61 313.09 L362.79 313.53 L363.98 313.97 L365.16 314.41 L366.35 314.85 L367.53 315.28 L368.72 315.72 L369.90 316.15 L371.09 316.59 L372.27 317.02 L373.46 317.45 L374.65 317.87 L375.83 318.30 L377.02 318.73 L378.21 319.15 L379.40 319.57 L380.58 320.00 L381.77 320.42 L382.96 320.84 L384.15 321.25 L385.34 321.67 L386.53 322.09 L387.72 322.50 L388.91 322.92 L390.10 323.33 L391.29 323.74 L392.48 324.15 L393.67 324.56 L394.86 324.97 L396.06 325.38 L397.25 325.78 L398.44 326.19 L399.63 326.59 L400.83 327.00 L402.02 327.40 L403.21 327.80 L404.41 328.20 L405.60 328.60 L406.79 329.00 L407.99 329.40 L409.18 329.80 L410.38 330.19 L411.57 330.59 L412.77 330.99 L413.96 331.38 L415.16 331.77 L416.35 332.17 L417.55 332.56 L418.74 332.95 L419.94 333.34 L421.14 333.73 L422.33 334.12 L423.53 334.51 L424.73 334.90 L425.92 335.29 L427.12 335.68 L428.32 336.06 L429.52 336.45 L430.71 336.84 L431.91 337.22 L433.11 337.61 L434.31 337.99 L435.51 338.38 L436.70 338.76 L437.90 339.14 L439.10 339.53 L440.30 339.91 L441.50 340.29 L442.70 340.67 L443.90 341.05 L445.10 341.43 L446.30 341.81 L447.49 342.20 L448.69 342.58 L449.89 342.96 L451.09 343.34 L452.29 343.72 L453.49 344.09 L454.69 344.47 L455.89 344.85 L457.09 345.23 L458.29 345.61 L459.49 345.99 L460.69 346.37 L461.90 346.75 L463.10 347.13 L464.30 347.50 L465.50 347.88 L466.70 348.26 L467.90 348.64 L469.10 349.02 L470.30 349.40 L471.50 349.78 L472.70 350.15 L473.90 350.53 L475.10 350.91 L476.30 351.29 L477.50 351.67 L478.71 352.05 L479.91 352.43 L481.11 352.81 L482.31 353.19 L483.51 353.57 L484.71 353.95 L485.91 354.33 L487.11 354.71 L488.31 355.09 L489.51 355.47 L490.72 355.86 L491.92 356.24 L493.12 356.62 L494.32 357.00 L495.52 357.39 L496.72 357.77 L497.92 358.16 L499.12 358.54 L500.32 358.93 L501.52 359.31 L502.72 359.70 L503.92 360.09 L505.12 360.47 L506.32 360.86 L507.52 361.25 L508.72 361.64 L509.92 362.03 L511.12 362.42 L512.32 362.81 L513.52 363.20 L514.72 363.59 L515.92 363.99 L517.12 364.38 L518.32 364.77 L519.52 365.17 L520.72 365.56 L521.92 365.96 L523.12 366.36 L524.32 366.76 L525.52 367.16 L526.72 367.56 L527.91 367.96 L529.11 368.36 L530.31 368.76 L531.51 369.16 L532.71 369.57 L533.90 369.97 L535.10 370.38 L536.30 370.79 L537.50 371.19 L538.69 371.60 L539.89 372.01 L541.09 372.43 L542.28 372.84 L543.48 373.25 L544.68 373.66 L545.87 374.08 L547.07 374.50 L548.27 374.91 L549.46 375.33 L550.66 375.75 L551.85 376.17 L553.05 376.59 L554.24 377.01 L555.44 377.43 L556.64 377.85 L557.83 378.27 L559.03 378.69 L560.22 379.11 L561.42 379.54 L562.61 379.96 L563.81 380.38 L565.00 380.81 L566.20 381.23 L567.39 381.65 L568.59 382.08 L569.78 382.50 L570.98 382.92 L572.17 383.35 L573.37 383.77 L574.56 384.20 L575.76 384.62 L576.95 385.04 L578.15 385.47 L579.34 385.89 L580.54 386.31 L581.74 386.73 L582.93 387.15 L584.13 387.57 L585.32 388.00 L586.52 388.42 L587.72 388.83 L588.91 389.25 L590.11 389.67 L591.31 390.09 L592.50 390.51 L593.70 390.92 L594.90 391.34 L596.10 391.75 L597.29 392.16 L598.49 392.58 L599.69 392.99 L600.89 393.40 L602.09 393.81 L603.28 394.21 L604.48 394.62 L605.68 395.03 L606.88 395.43 L608.08 395.83 L609.28 396.24 L610.48 396.64 L611.68 397.03 L612.88 397.43 L614.08 397.83 L615.29 398.22 L616.49 398.61 L617.69 399.01 L618.89 399.40 L620.10 399.78 L621.30 400.17 L622.50 400.55 L623.71 400.93 L624.91 401.32 L626.12 401.69 L627.32 402.07 L628.53 402.44 L629.73 402.82 L630.94 403.19 L632.14 403.56 L633.35 403.92 L634.56 404.28 L635.77 404.65 L636.98 405.01 L638.18 405.36 L639.39 405.72 L640.60 406.07 L641.81 406.42 L643.02 406.76 L644.24 407.11 L645.45 407.45 L646.66 407.79 L647.87 408.13 L649.09 408.46 L650.30 408.79 L651.51 409.12 L652.73 409.44 L653.94 409.77 L655.16 410.09 L656.38 410.40 L657.59 410.72 L658.81 411.03 L660.03 411.33 L661.25 411.64 L662.47 411.94 L663.69 412.24 L664.91 412.53 L666.13 412.82 L667.35 413.11 L668.58 413.39 L669.80 413.67 L671.02 413.95 L672.25 414.23 L673.47 414.50 L674.70 414.76 L675.93 415.03 L677.16 415.29 L678.38 415.54 L679.61 415.79 L680.84 416.04 L682.07 416.28 L683.30 416.52 L684.54 416.76 L685.77 416.99 L687.00 417.22 L688.24 417.45 L689.47 417.67 L690.71 417.88 L691.94 418.09 L693.18 418.30 L694.42 418.50 L695.66 418.70 L696.90 418.90 L698.14 419.09 L699.38 419.27 L700.62 419.45 L701.87 419.63 L703.11 419.80 L704.36 419.97 L705.60 420.13 L706.85 420.29 L708.10 420.44 L709.35 420.59 L710.59 420.74 L711.85 420.87 L713.10 421.01 L714.35 421.14 L715.60 421.26 L716.86 421.38 L718.11 421.49 L719.37 421.60 L720.62 421.71 L721.88 421.80 L723.14 421.90 L724.40 421.99 L725.66 422.07 L726.92 422.14 L728.19 422.22 L729.45 422.28 L730.72 422.34 L731.98 422.40 L733.25 422.45 L734.52 422.49 L735.79 422.53 L737.06 422.56 L738.33 422.59 L739.60 422.61 L740.88 422.63 L742.15 422.63 L743.43 422.64 L744.70 422.64 L745.98 422.63 L747.26 422.61" stroke="#000" stroke-width="3.2"/>
</g>
<path d="M95.50 453.05 v-6.70 M95.50 34.10 v6.70 M152.84 453.05 v-6.70 M152.84 34.10 v6.70 M193.53 453.05 v-6.70 M193.53 34.10 v6.70 M225.09 453.05 v-6.70 M225.09 34.10 v6.70 M250.87 453.05 v-6.70 M250.87 34.10 v6.70 M272.68 453.05 v-6.70 M272.68 34.10 v6.70 M291.56 453.05 v-6.70 M291.56 34.10 v6.70 M308.22 453.05 v-6.70 M308.22 34.10 v6.70 M323.12 453.05 v-11.50 M323.12 34.10 v11.50 M421.15 453.05 v-6.70 M421.15 34.10 v6.70 M478.49 453.05 v-6.70 M478.49 34.10 v6.70 M519.18 453.05 v-6.70 M519.18 34.10 v6.70 M550.74 453.05 v-6.70 M550.74 34.10 v6.70 M576.52 453.05 v-6.70 M576.52 34.10 v6.70 M598.33 453.05 v-6.70 M598.33 34.10 v6.70 M617.21 453.05 v-6.70 M617.21 34.10 v6.70 M633.87 453.05 v-6.70 M633.87 34.10 v6.70 M648.77 453.05 v-11.50 M648.77 34.10 v11.50 M746.80 453.05 v-6.70 M746.80 34.10 v6.70 M82.35 453.05 h11.50 M760.40 453.05 h-11.50 M82.35 421.52 h6.70 M760.40 421.52 h-6.70 M82.35 403.08 h6.70 M760.40 403.08 h-6.70 M82.35 389.99 h6.70 M760.40 389.99 h-6.70 M82.35 379.84 h6.70 M760.40 379.84 h-6.70 M82.35 371.55 h6.70 M760.40 371.55 h-6.70 M82.35 364.54 h6.70 M760.40 364.54 h-6.70 M82.35 358.46 h6.70 M760.40 358.46 h-6.70 M82.35 353.11 h6.70 M760.40 353.11 h-6.70 M82.35 348.31 h11.50 M760.40 348.31 h-11.50 M82.35 316.78 h6.70 M760.40 316.78 h-6.70 M82.35 298.34 h6.70 M760.40 298.34 h-6.70 M82.35 285.25 h6.70 M760.40 285.25 h-6.70 M82.35 275.10 h6.70 M760.40 275.10 h-6.70 M82.35 266.81 h6.70 M760.40 266.81 h-6.70 M82.35 259.80 h6.70 M760.40 259.80 h-6.70 M82.35 253.73 h6.70 M760.40 253.73 h-6.70 M82.35 248.37 h6.70 M760.40 248.37 h-6.70 M82.35 243.57 h11.50 M760.40 243.57 h-11.50 M82.35 212.05 h6.70 M760.40 212.05 h-6.70 M82.35 193.60 h6.70 M760.40 193.60 h-6.70 M82.35 180.52 h6.70 M760.40 180.52 h-6.70 M82.35 170.37 h6.70 M760.40 170.37 h-6.70 M82.35 162.07 h6.70 M760.40 162.07 h-6.70 M82.35 155.06 h6.70 M760.40 155.06 h-6.70 M82.35 148.99 h6.70 M760.40 148.99 h-6.70 M82.35 143.63 h6.70 M760.40 143.63 h-6.70 M82.35 138.84 h11.50 M760.40 138.84 h-11.50 M82.35 107.31 h6.70 M760.40 107.31 h-6.70 M82.35 88.87 h6.70 M760.40 88.87 h-6.70 M82.35 75.78 h6.70 M760.40 75.78 h-6.70 M82.35 65.63 h6.70 M760.40 65.63 h-6.70 M82.35 57.34 h6.70 M760.40 57.34 h-6.70 M82.35 50.32 h6.70 M760.40 50.32 h-6.70 M82.35 44.25 h6.70 M760.40 44.25 h-6.70 M82.35 38.89 h6.70 M760.40 38.89 h-6.70 M82.35 34.10 h11.50 M760.40 34.10 h-11.50 " stroke="#000" stroke-width="2.0" fill="none"/>
<rect x="82.35" y="34.10" width="678.05" height="418.95" fill="none" stroke="#000" stroke-width="2.2"/>
<g font-family="'Liberation Serif', serif" fill="#000">
<text y="461.85" font-size="26.2"><tspan x="35.4">1</tspan><tspan x="46.8">0</tspan></text>
<text y="452.75" font-size="18.0"><tspan x="60.0" dy="0.9">−</tspan><tspan x="70.1" dy="-0.9">9</tspan></text>
<text y="357.11" font-size="26.2"><tspan x="35.4">1</tspan><tspan x="46.8">0</tspan></text>
<text y="348.01" font-size="18.0"><tspan x="60.0" dy="0.9">−</tspan><tspan x="70.1" dy="-0.9">8</tspan></text>
<text y="252.38" font-size="26.2"><tspan x="35.4">1</tspan><tspan x="46.8">0</tspan></text>
<text y="243.27" font-size="18.0"><tspan x="60.0" dy="0.9">−</tspan><tspan x="70.1" dy="-0.9">7</tspan></text>
<text y="147.64" font-size="26.2"><tspan x="35.4">1</tspan><tspan x="46.8">0</tspan></text>
<text y="138.54" font-size="18.0"><tspan x="60.0" dy="0.9">−</tspan><tspan x="70.1" dy="-0.9">6</tspan></text>
<text y="42.90" font-size="26.2"><tspan x="35.4">1</tspan><tspan x="46.8">0</tspan></text>
<text y="33.80" font-size="18.0"><tspan x="60.0" dy="0.9">−</tspan><tspan x="70.1" dy="-0.9">5</tspan></text>
<text y="479.5" font-size="26.2"><tspan x="80.0">0</tspan><tspan x="92.5">.</tspan><tspan x="98.0">2</tspan></text>
<text x="323.42" y="479.5" font-size="26.2" text-anchor="middle">1</text>
<text y="479.5" font-size="26.2"><tspan x="637.0">1</tspan><tspan x="648.2">0</tspan></text>
<text y="479.5" font-size="26.2"><tspan x="734.8">2</tspan><tspan x="746.5">0</tspan></text>
<text x="283.4" y="479.5" font-size="23.6" font-style="italic">z</text>
<text x="292.8" y="483.1" font-size="17" font-style="italic">c</text>
<text y="515" font-size="24.7"><tspan x="378.8" font-style="italic">z</tspan><tspan x="394.4" dy="0.6" font-size="26.2">=</tspan><tspan x="414.8" dy="-0.6" font-size="24.7" font-style="italic">m</tspan><tspan x="432.2" dy="1.9" font-size="12.3" font-style="italic">N</tspan><tspan x="441.4" dy="-1.9" font-size="24.7">/</tspan><tspan x="449.2">T</tspan></text>
<g transform="translate(23.0 267.0) rotate(-90)"><text font-size="24.8" font-style="italic"><tspan x="0" font-style="normal">±</tspan><tspan x="13.8">δ</tspan><tspan x="25.4">η</tspan><tspan x="37.4" dy="-9.2" font-size="18">L</tspan></text></g>
<text y="72.2" font-size="18.6"><tspan x="331.2" font-style="italic">m</tspan><tspan x="344.6" dy="2.2" font-size="11.8" font-style="italic">N</tspan><tspan x="358.4" dy="-1.4" font-size="21.5">=</tspan><tspan x="377.2" dy="-0.8" font-size="18.6">120 GeV</tspan></text>
<text y="128.7" font-size="14.6" font-style="italic"><tspan x="204.0" font-style="normal">+</tspan><tspan x="213.0">δ</tspan><tspan x="220.3">η</tspan><tspan x="228.2" dy="-5.8" font-size="10.4">L</tspan></text>
<text y="390.7" font-size="14.6" font-style="italic"><tspan x="634.0" font-style="normal">−</tspan><tspan x="643.0">δ</tspan><tspan x="650.3">η</tspan><tspan x="658.2" dy="-5.8" font-size="10.4">L</tspan></text>
<text y="295.2" font-size="14.6" font-style="italic"><tspan x="694.8" font-style="normal">−</tspan><tspan x="703.8">δ</tspan><tspan x="711.1">η</tspan><tspan x="719.0" dy="-5.8" font-size="10.4">L</tspan><tspan x="718.2" dy="10.2" font-size="10.4" font-style="normal">obs</tspan></text>
<g fill="none">
<path d="M521.8 60.7 H564.2" stroke="#ffd985" stroke-width="2.8"/>
<path d="M521.8 91.1 H564.2" stroke="#b3b3b3" stroke-width="2.9"/>
<path d="M521.8 121.2 H564.2" stroke="#000" stroke-width="3.2"/>
<path d="M521.8 151.6 H563.5" stroke="#f00" stroke-width="3.2" stroke-dasharray="17.4 6.9"/>
<path d="M521.8 182.0 H564.2" stroke="#f00" stroke-width="1.5"/>
<path d="M521.8 212.3 H564.2" stroke="#0f0" stroke-width="3.2" stroke-dasharray="13.3 5.7 3.6 6.6"/>
<path d="M521.8 242.7 H558.2" stroke="#00f" stroke-width="3.2" stroke-dasharray="3.5 6.9"/>
</g>
<text y="62.1" font-size="14.8"><tspan x="570.4" font-size="14.8">total,</tspan><tspan x="605.0" font-size="14.8" font-style="italic" font-weight="bold" stroke="#fff" stroke-width="0.12">η</tspan><tspan x="614.2" dy="-6.4" font-size="10.4" font-weight="bold" font-style="italic">N</tspan><tspan x="613.3" dy="9.8" font-size="10.4" font-weight="bold">in</tspan><tspan x="623.4" dy="-2.9" font-size="16.6">=</tspan><tspan x="632.6" dy="-0.5" font-size="14.8" font-weight="bold">0</tspan><tspan x="640.2" font-size="14.8">,</tspan><tspan x="648.4" font-size="14.8" font-style="italic" font-weight="bold" stroke="#fff" stroke-width="0.12">δ</tspan><tspan x="656.7" font-size="14.8" font-style="italic" font-weight="bold" stroke="#fff" stroke-width="0.12">η</tspan><tspan x="665.9" dy="-6.4" font-size="10.4" font-weight="bold" font-style="italic">L</tspan><tspan x="665.0" dy="9.8" font-size="10.4" font-weight="bold">in</tspan><tspan x="674.0" dy="-2.9" font-size="16.6">=</tspan><tspan x="684.2" dy="-0.5" font-size="14.8">10</tspan><tspan x="699.0" dy="-5.6" font-size="10.8">−3</tspan><tspan x="711.2" dy="5.6" font-size="14.8" font-weight="bold">I</tspan></text>
<text y="92.5" font-size="14.8"><tspan x="570.4" font-size="14.8">total,</tspan><tspan x="605.0" font-size="14.8" font-style="italic" font-weight="bold" stroke="#fff" stroke-width="0.12">η</tspan><tspan x="614.2" dy="-6.4" font-size="10.4" font-weight="bold" font-style="italic">N</tspan><tspan x="613.3" dy="9.8" font-size="10.4" font-weight="bold">in</tspan><tspan x="623.4" dy="-2.9" font-size="16.6">=</tspan><tspan x="632.6" dy="-0.5" font-size="14.8" font-weight="bold">0</tspan><tspan x="640.2" font-size="14.8">,</tspan><tspan x="648.4" font-size="14.8" font-style="italic" font-weight="bold" stroke="#fff" stroke-width="0.12">δ</tspan><tspan x="656.7" font-size="14.8" font-style="italic" font-weight="bold" stroke="#fff" stroke-width="0.12">η</tspan><tspan x="665.9" dy="-6.4" font-size="10.4" font-weight="bold" font-style="italic">L</tspan><tspan x="665.0" dy="9.8" font-size="10.4" font-weight="bold">in</tspan><tspan x="674.0" dy="-2.9" font-size="16.6">=</tspan><tspan x="683.2" dy="-0.5" font-size="14.8" font-weight="bold">0</tspan></text>
<text y="122.6" font-size="14.8"><tspan x="570.4" font-size="14.8">total,</tspan><tspan x="605.0" font-size="14.8" font-style="italic" font-weight="bold" stroke="#fff" stroke-width="0.12">η</tspan><tspan x="614.2" dy="-6.4" font-size="10.4" font-weight="bold" font-style="italic">N</tspan><tspan x="613.3" dy="9.8" font-size="10.4" font-weight="bold">in</tspan><tspan x="623.4" dy="-2.9" font-size="16.6">=</tspan><tspan x="632.4" dy="-0.5" font-size="14.8" font-style="italic" font-weight="bold" stroke="#fff" stroke-width="0.12">η</tspan><tspan x="641.6" dy="-6.4" font-size="10.4" font-weight="bold" font-style="italic">N</tspan><tspan x="640.7" dy="9.8" font-size="10.4" font-weight="bold">eq</tspan><tspan x="652.0" dy="-3.4" font-size="14.8">,</tspan><tspan x="660.0" font-size="14.8" font-style="italic" font-weight="bold" stroke="#fff" stroke-width="0.12">δ</tspan><tspan x="668.3" font-size="14.8" font-style="italic" font-weight="bold" stroke="#fff" stroke-width="0.12">η</tspan><tspan x="677.5" dy="-6.4" font-size="10.4" font-weight="bold" font-style="italic">L</tspan><tspan x="676.6" dy="9.8" font-size="10.4" font-weight="bold">in</tspan><tspan x="685.6" dy="-2.9" font-size="16.6">=</tspan><tspan x="694.8" dy="-0.5" font-size="14.8" font-weight="bold">0</tspan></text>
<text y="153.0" font-size="14.8"><tspan x="570.6" font-size="14.8">N</tspan><tspan x="585.9" font-size="14.8">diag.,</tspan><tspan x="623.0" font-size="14.8" font-style="italic" font-weight="bold" stroke="#fff" stroke-width="0.12">η</tspan><tspan x="632.2" dy="-6.4" font-size="10.4" font-weight="bold" font-style="italic">N</tspan><tspan x="631.3" dy="9.8" font-size="10.4" font-weight="bold">in</tspan><tspan x="641.4" dy="-2.9" font-size="16.6">=</tspan><tspan x="650.4" dy="-0.5" font-size="14.8" font-style="italic" font-weight="bold" stroke="#fff" stroke-width="0.12">η</tspan><tspan x="659.6" dy="-6.4" font-size="10.4" font-weight="bold" font-style="italic">N</tspan><tspan x="658.7" dy="9.8" font-size="10.4" font-weight="bold">eq</tspan><tspan x="670.0" dy="-3.4" font-size="14.8">,</tspan><tspan x="678.0" font-size="14.8" font-style="italic" font-weight="bold" stroke="#fff" stroke-width="0.12">δ</tspan><tspan x="686.3" font-size="14.8" font-style="italic" font-weight="bold" stroke="#fff" stroke-width="0.12">η</tspan><tspan x="695.5" dy="-6.4" font-size="10.4" font-weight="bold" font-style="italic">L</tspan><tspan x="694.6" dy="9.8" font-size="10.4" font-weight="bold">in</tspan><tspan x="703.6" dy="-2.9" font-size="16.6">=</tspan><tspan x="712.8" dy="-0.5" font-size="14.8" font-weight="bold">0</tspan></text>
<text y="183.4" font-size="14.8"><tspan x="570.6" font-size="14.8">N</tspan><tspan x="585.9" font-size="14.8">diag.,</tspan><tspan x="623.0" font-size="14.8">analytic</tspan></text>
<text y="213.7" font-size="14.8"><tspan x="570.6" font-size="14.8">L</tspan><tspan x="584.0" font-size="14.8">diag.,</tspan><tspan x="621.4" font-size="14.8" font-style="italic" font-weight="bold" stroke="#fff" stroke-width="0.12">η</tspan><tspan x="630.6" dy="-6.4" font-size="10.4" font-weight="bold" font-style="italic">N</tspan><tspan x="629.7" dy="9.8" font-size="10.4" font-weight="bold">in</tspan><tspan x="639.8" dy="-2.9" font-size="16.6">=</tspan><tspan x="648.8" dy="-0.5" font-size="14.8" font-style="italic" font-weight="bold" stroke="#fff" stroke-width="0.12">η</tspan><tspan x="658.0" dy="-6.4" font-size="10.4" font-weight="bold" font-style="italic">N</tspan><tspan x="657.1" dy="9.8" font-size="10.4" font-weight="bold">eq</tspan><tspan x="668.4" dy="-3.4" font-size="14.8">,</tspan><tspan x="676.4" font-size="14.8" font-style="italic" font-weight="bold" stroke="#fff" stroke-width="0.12">δ</tspan><tspan x="684.7" font-size="14.8" font-style="italic" font-weight="bold" stroke="#fff" stroke-width="0.12">η</tspan><tspan x="693.9" dy="-6.4" font-size="10.4" font-weight="bold" font-style="italic">L</tspan><tspan x="693.0" dy="9.8" font-size="10.4" font-weight="bold">in</tspan><tspan x="702.0" dy="-2.9" font-size="16.6">=</tspan><tspan x="711.2" dy="-0.5" font-size="14.8" font-weight="bold">0</tspan></text>
<text y="244.1" font-size="14.8"><tspan x="570.6" font-size="14.8">N,</tspan><tspan x="589.6" font-size="14.8">L</tspan><tspan x="602.4" font-size="14.8">diag.,</tspan><tspan x="640.0" font-size="14.8" font-style="italic" font-weight="bold" stroke="#fff" stroke-width="0.12">η</tspan><tspan x="649.2" dy="-6.4" font-size="10.4" font-weight="bold" font-style="italic">N</tspan><tspan x="648.3" dy="9.8" font-size="10.4" font-weight="bold">in</tspan><tspan x="658.4" dy="-2.9" font-size="16.6">=</tspan><tspan x="667.4" dy="-0.5" font-size="14.8" font-style="italic" font-weight="bold" stroke="#fff" stroke-width="0.12">η</tspan><tspan x="676.6" dy="-6.4" font-size="10.4" font-weight="bold" font-style="italic">N</tspan><tspan x="675.7" dy="9.8" font-size="10.4" font-weight="bold">eq</tspan><tspan x="687.0" dy="-3.4" font-size="14.8">,</tspan><tspan x="695.0" font-size="14.8" font-style="italic" font-weight="bold" stroke="#fff" stroke-width="0.12">δ</tspan><tspan x="703.3" font-size="14.8" font-style="italic" font-weight="bold" stroke="#fff" stroke-width="0.12">η</tspan><tspan x="712.5" dy="-6.4" font-size="10.4" font-weight="bold" font-style="italic">L</tspan><tspan x="711.6" dy="9.8" font-size="10.4" font-weight="bold">in</tspan><tspan x="720.6" dy="-2.9" font-size="16.6">=</tspan><tspan x="729.8" dy="-0.5" font-size="14.8" font-weight="bold">0</tspan></text>
</g>
</svg>
</body></html>
